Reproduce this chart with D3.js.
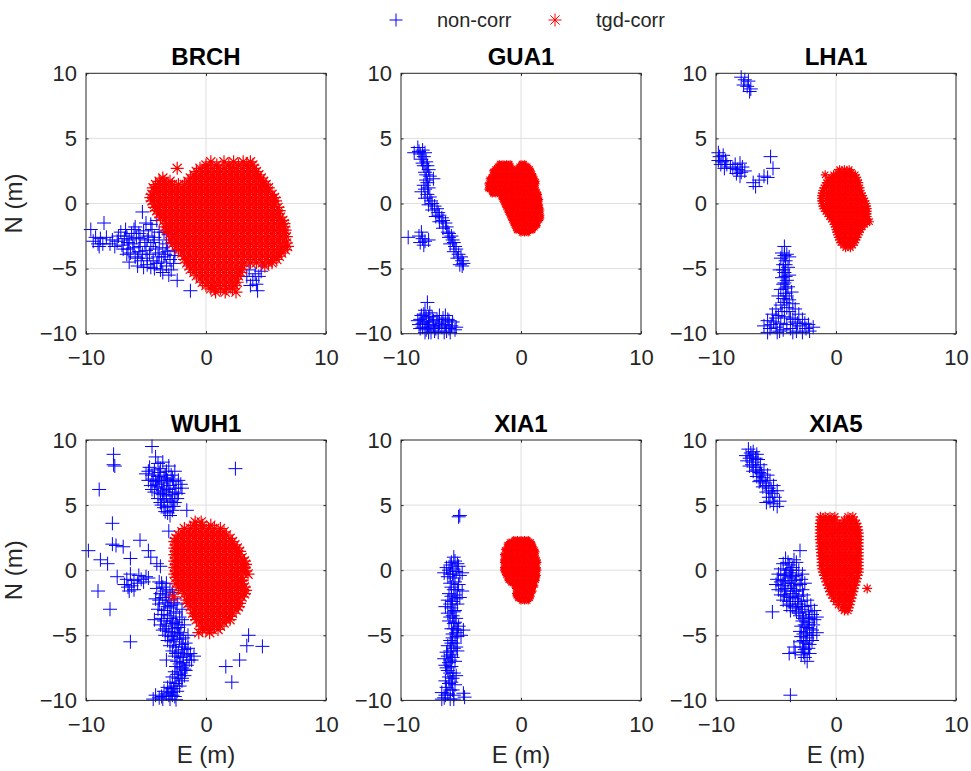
<!DOCTYPE html>
<html><head><meta charset="utf-8">
<script src="https://cdn.jsdelivr.net/npm/d3@7"></script>
<style>
body{margin:0;background:#fff;}
svg text{font-family:"Liberation Sans",Arial,Helvetica,sans-serif;fill:#262626;}
</style></head><body>
<svg id="fig" width="971" height="771"></svg>
<script>
// Station panels, in drawing order (row by row)
const stations = ["BRCH", "GUA1", "LHA1", "WUH1", "XIA1", "XIA5"];
const seriesNames = ["non-corr", "tgd-corr"];
const xTicks = [-10, 0, 10];
const yTicks = [-10, -5, 0, 5, 10];
const xLabel = "E (m)";
const yLabel = "N (m)";

// Uncorrected fixes, [E, N] in metres
const brchNonCorr = [
 [-9.6,-2.0],[-8.5,-1.5],[-9.4,-2.9],[-9.0,-3.1],[-8.8,-2.7],[-8.3,-2.6],[-8.0,-3.1],[-7.6,-3.3],[-8.9,-3.3],
 [-7.1,-2.2],[-6.8,-2.7],[-6.5,-3.0],[-6.9,-3.5],[-6.2,-2.3],[-6.0,-2.0],[-5.8,-2.6],[-5.5,-3.3],[-6.3,-3.8],[-5.9,-4.1],
 [-5.3,-0.65],[-4.1,-1.3],[-5.2,-2.1],[-4.8,-2.5],[-4.5,-2.0],[-4.4,-3.0],[-5.0,-3.6],[-4.7,-3.9],[-5.4,-4.4],[-4.9,-4.7],
 [-4.2,-3.5],[-3.9,-2.8],[-3.6,-3.4],[-4.0,-4.1],[-3.7,-4.5],[-4.3,-5.0],[-3.4,-3.9],[-3.3,-4.8],[-3.8,-5.1],[-3.0,-4.3],
 [-2.8,-3.0],[-2.9,-5.1],[-2.6,-4.0],[-2.4,-5.9],[-1.3,-6.7],[-3.1,-2.4],[-3.5,-2.2],[-5.7,-4.8],[-6.6,-2.5],[-7.4,-2.9],
 [-7.3,-2.5],[-6.0,-3.4],[-5.1,-3.0],[-4.6,-3.3],[-3.2,-3.7],[-4.4,-4.4],[-5.5,-2.7],[-6.4,-4.5],
 [-6.7,-2.0],[-6.4,-2.8],[-6.1,-3.1],[-5.6,-3.7],[-5.3,-3.9],[-4.9,-4.2],[-4.6,-4.9],[-4.1,-4.6],[-3.9,-3.8],
 [-3.5,-4.1],[-3.3,-3.1],[-4.3,-2.6],[-4.9,-2.8],[-5.6,-2.3],[-5.2,-4.9],[-3.6,-5.3],[-3.1,-5.5],[-2.7,-4.6],
 [-2.6,-3.6],[-6.6,-3.9],[-7.0,-3.2],[-7.8,-2.8],[-8.6,-3.1],[-9.2,-2.6],[-4.6,-1.6],[-3.9,-2.2],[-5.9,-1.8],
 [-5.0,-1.5],[-6.5,-3.5],[-5.7,-4.2],
 [3.6,-5.1],[4.1,-5.4],[3.4,-5.6],[3.9,-5.9],[4.4,-5.6],[4.2,-6.2],[3.7,-6.3],[4.3,-6.7],[4.6,-5.2]
];
const gua1NonCorr = [
 [-8.6,4.3],[-8.2,4.1],[-8.9,3.9],[-8.4,3.8],[-8.0,3.9],[-8.3,3.4],[-7.9,3.2],[-8.1,2.9],[-7.7,2.6],[-8.0,2.4],
 [-7.6,2.1],[-7.9,1.8],[-7.3,1.9],[-8.1,1.4],[-7.7,1.2],[-8.3,0.9],[-7.8,0.7],[-8.0,0.4],[-7.5,0.2],[-7.7,-0.1],
 [-7.2,-0.2],[-7.4,-0.5],[-6.9,-0.7],[-7.1,-1.0],[-6.6,-1.1],[-6.8,-1.4],[-6.3,-1.5],[-6.5,-1.9],[-6.1,-2.2],
 [-6.0,-2.6],[-5.7,-2.8],[-5.9,-3.1],[-5.5,-3.3],[-5.6,-3.7],[-5.2,-3.9],[-5.3,-4.2],[-4.9,-4.4],[-5.1,-4.7],[-4.8,-4.6],
 [-8.5,4.0],[-8.1,3.6],[-8.2,3.1],[-7.8,2.9],[-7.9,2.2],[-7.8,1.6],[-8.0,1.1],[-7.6,0.5],[-7.4,0.0],[-7.0,-0.4],
 [-6.8,-0.9],[-6.5,-1.3],[-6.2,-1.8],[-6.0,-2.3],[-5.8,-2.5],[-5.6,-3.0],[-5.4,-3.5],[-5.0,-4.1],[-4.9,-4.8],
 [-9.4,-2.6],[-8.5,-2.5],[-8.2,-2.7],[-8.0,-2.9],[-8.4,-3.0],[-8.1,-3.2],[-7.7,-2.8],[-8.3,-2.2],
 [-7.8,-7.6],[-8.0,-8.2],[-7.6,-8.4],[-8.3,-8.6],[-7.9,-8.8],[-7.4,-8.7],[-8.6,-9.0],[-8.2,-9.2],[-7.7,-9.1],
 [-7.3,-9.4],[-8.4,-9.6],[-7.9,-9.7],[-7.5,-9.9],[-7.1,-9.6],[-6.8,-9.2],[-6.5,-8.8],[-6.3,-8.6],[-6.0,-9.0],
 [-6.6,-9.5],[-6.2,-9.8],[-5.8,-9.4],[-5.5,-9.7],[-5.9,-9.9],[-7.0,-8.9],[-8.0,-9.9],[-6.9,-9.9],
 [-8.1,-8.5],[-7.7,-8.7],[-8.4,-8.9],[-8.0,-9.1],[-7.6,-9.3],[-8.2,-9.5],[-7.8,-9.5],[-7.3,-9.0],[-6.9,-9.4],
 [-6.6,-9.1],[-6.3,-9.3],[-6.0,-9.6],[-5.7,-9.1],[-5.4,-9.5],[-6.4,-9.9],[-7.2,-9.8],[-7.7,-9.9],[-8.5,-9.3],
 [-6.8,-8.6],[-6.1,-8.9]
];
const lha1NonCorr = [
 [-7.9,9.7],[-7.6,9.5],[-7.3,9.4],[-7.7,9.1],[-7.4,9.0],[-7.1,8.8],[-7.2,8.6],
 [-9.8,3.9],[-9.7,3.6],[-9.4,3.7],[-9.8,3.3],[-9.5,3.2],[-9.2,3.3],[-9.6,3.0],[-9.1,3.0],[-8.8,2.8],[-9.3,2.7],
 [-8.4,3.0],[-8.0,3.1],[-8.6,2.7],[-8.2,2.6],[-7.8,2.8],[-8.3,2.3],[-7.9,2.4],[-7.6,2.5],[-8.0,2.1],
 [-6.9,1.6],[-6.7,1.3],[-6.4,1.8],[-6.0,2.1],[-5.7,2.0],[-5.45,3.6],[-5.25,2.7],
 [-4.3,-3.3],[-4.5,-3.8],[-4.1,-3.9],[-4.6,-4.2],[-4.2,-4.4],[-3.9,-4.1],[-4.4,-4.7],[-4.0,-4.9],[-4.7,-5.1],
 [-4.3,-5.3],[-3.9,-5.5],[-4.5,-5.7],[-4.1,-5.9],[-4.4,-6.2],[-4.0,-6.4],[-4.6,-6.6],[-4.2,-6.9],[-3.7,-6.8],
 [-4.8,-7.1],[-4.4,-7.3],[-3.9,-7.4],[-3.6,-7.7],[-4.6,-7.8],[-4.1,-8.0],[-5.0,-8.1],[-3.4,-8.1],[-3.1,-8.5],
 [-5.3,-8.5],[-4.8,-8.6],[-4.3,-8.7],[-3.8,-8.8],[-2.8,-8.9],[-2.6,-9.2],[-5.7,-9.0],[-5.2,-9.1],[-4.6,-9.2],
 [-3.4,-9.1],[-3.0,-9.4],[-2.3,-9.3],[-1.9,-9.5],[-6.0,-9.4],[-5.5,-9.6],[-5.0,-9.5],[-4.4,-9.7],[-3.8,-9.6],
 [-3.3,-9.8],[-2.8,-9.9],[-2.2,-9.8],[-5.7,-9.9],[-4.9,-9.9],
 [-4.3,-4.0],[-4.2,-4.7],[-4.4,-5.1],[-4.2,-5.6],[-4.3,-6.1],[-4.2,-6.5],[-4.1,-7.1],[-4.3,-7.6],[-4.5,-8.3],
 [-3.9,-8.3],[-5.0,-8.8],[-3.6,-8.9],[-5.4,-9.3],[-4.1,-9.3],[-3.2,-9.2],[-2.5,-9.6],[-4.7,-9.8],[-3.6,-9.9]
];
const wuh1NonCorr = [
 [-4.5,9.5],[-4.2,8.7],[-4.0,8.2],[-3.6,8.3],[-4.7,7.9],[-4.3,7.7],[-3.8,7.8],[-3.3,7.6],[-5.0,7.4],[-4.5,7.3],
 [-4.0,7.2],[-3.5,7.1],[-2.9,7.3],[-4.8,6.9],[-4.2,6.8],[-3.7,6.7],[-3.2,6.9],[-2.7,6.8],[-4.6,6.5],[-4.0,6.4],
 [-3.5,6.3],[-3.0,6.5],[-2.5,6.3],[-2.1,6.6],[-4.3,6.0],[-3.8,5.9],[-3.3,6.0],[-2.8,5.8],[-2.3,5.9],[-4.0,5.5],
 [-3.5,5.4],[-3.0,5.5],[-2.6,5.2],[-3.7,5.0],[-3.2,4.9],[-2.8,4.6],[-3.4,4.5],[-3.0,4.2],[-1.6,4.6],[-3.1,3.0],
 [-3.6,5.8],[-3.9,6.9],[-3.3,7.0],[-2.6,7.6],
 [-4.4,7.0],[-3.9,7.5],[-3.4,7.3],[-2.8,7.0],[-4.1,6.6],[-3.6,6.1],[-3.1,6.2],[-2.6,6.0],[-4.5,6.2],[-3.8,5.2],
 [-3.3,5.7],[-2.9,5.3],[-3.5,4.8],[-2.4,5.5],[-4.8,7.6],[-3.1,8.0],[-2.3,6.9],[-2.0,6.3],[-3.2,4.4],[-2.7,4.9],
 [-7.7,8.9],[-7.7,8.1],[-7.6,8.0],[-8.9,6.2],[-7.8,3.6],[-5.5,2.3],[-7.8,2.0],[-7.5,1.9],[-6.9,1.8],[-9.8,1.5],
 [-4.8,1.5],[-4.6,1.0],[-6.3,0.9],[-8.8,0.8],[-8.2,0.5],[-4.1,0.5],[-3.8,0.3],[-7.4,-0.5],[-9.0,-1.6],[-8.0,-3.0],[-6.3,-5.5],
 [-6.3,-0.3],[-5.6,-0.4],[-5.0,-0.5],[-6.6,-0.7],[-6.0,-0.8],[-5.4,-0.7],[-6.8,-1.1],[-6.2,-1.2],[-5.7,-1.0],
 [-6.4,-1.6],[-6.0,-1.5],[-5.2,-0.9],[-6.5,-1.3],[-4.8,-0.6],
 [-3.9,-0.9],[-3.3,-1.0],[-4.1,-1.4],[-3.6,-1.3],[-3.0,-1.5],[-3.8,-1.8],[-3.3,-1.9],[-2.8,-1.7],[-4.2,-2.2],
 [-3.6,-2.1],[-3.1,-2.3],[-2.6,-2.2],[-3.9,-2.6],[-3.4,-2.5],[-2.9,-2.7],[-2.4,-2.6],[-4.0,-3.0],[-3.5,-3.1],
 [-3.0,-2.9],[-2.5,-3.2],[-2.0,-3.0],[-3.7,-3.4],[-3.2,-3.5],[-2.7,-3.3],[-2.2,-3.6],[-4.3,-3.8],[-3.5,-3.9],
 [-3.0,-3.7],[-2.5,-4.0],[-2.0,-3.8],[-3.8,-4.2],[-3.3,-4.3],[-2.8,-4.1],[-2.3,-4.4],[-1.8,-4.2],[-3.6,-4.6],
 [-3.1,-4.7],[-2.6,-4.5],[-2.1,-4.8],[-3.4,-5.0],[-2.9,-5.1],[-2.4,-4.9],[-1.9,-5.2],[-1.5,-5.0],[-3.2,-5.4],
 [-2.7,-5.5],[-2.2,-5.3],[-1.7,-5.6],[-3.0,-5.8],[-2.5,-5.9],[-2.0,-5.7],[-1.5,-6.0],[-2.8,-6.2],[-2.3,-6.3],
 [-1.8,-6.1],[-1.3,-6.4],[-2.6,-6.6],[-2.1,-6.7],[-1.6,-6.5],[-3.3,-6.9],[-2.4,-7.0],[-1.9,-7.1],[-1.4,-6.9],
 [-2.5,-7.4],[-2.0,-7.5],[-1.6,-7.3],[-2.6,-7.8],[-2.1,-7.9],[-1.7,-7.7],[-2.8,-8.2],[-2.3,-8.3],[-1.8,-8.1],
 [-3.0,-8.6],[-2.5,-8.7],[-2.0,-8.5],[-3.2,-9.0],[-2.7,-9.1],[-2.2,-8.9],[-3.5,-9.3],[-2.9,-9.4],[-2.4,-9.3],
 [-4.2,-9.6],[-3.7,-9.7],[-3.1,-9.6],[-2.6,-9.7],[-4.4,-9.9],[-3.6,-9.9],[-3.0,-9.9],[-2.5,-9.95],
 [-3.7,-1.0],[-3.4,-1.6],[-3.9,-2.3],[-2.7,-2.5],[-3.2,-2.8],[-3.7,-3.7],[-2.9,-3.9],[-2.4,-4.2],[-3.4,-4.5],
 [-2.8,-4.8],[-2.2,-5.0],[-2.6,-5.3],[-2.0,-5.9],[-2.5,-6.4],[-1.9,-6.6],[-2.2,-7.2],[-1.8,-7.6],[-2.4,-8.0],
 [-2.0,-8.3],[-2.6,-8.9],[-2.9,-9.1],[-3.3,-9.5],[-2.8,-9.6],[-3.9,-9.8],[-1.2,-6.9],[-1.0,-6.6],
 [2.45,7.8],[3.55,-5.0],[3.4,-5.8],[4.7,-5.85],[2.8,-6.9],[1.65,-7.4],[2.15,-8.6]
];
const xia1NonCorr = [
 [-5.2,4.1],[-5.1,4.2],[-5.6,1.0],[-5.8,0.6],[-5.3,0.5],[-6.2,0.2],[-5.7,0.1],[-5.2,0.3],[-6.4,-0.2],[-5.9,-0.3],
 [-5.4,-0.1],[-4.9,-0.2],[-6.1,-0.5],[-5.6,-0.6],[-5.5,-0.9],[-5.2,-1.1],[-5.8,-1.3],[-5.3,-1.5],[-4.9,-1.6],
 [-6.0,-1.8],[-5.5,-1.9],[-5.1,-2.1],[-6.1,-2.3],[-5.7,-2.4],[-5.3,-2.6],[-6.3,-2.8],[-5.8,-2.9],[-5.5,-3.1],
 [-6.1,-3.3],[-5.7,-3.5],[-5.4,-3.7],[-6.0,-3.9],[-5.6,-4.1],[-5.2,-4.3],[-5.8,-4.5],[-5.3,-4.6],[-4.8,-4.6],
 [-5.7,-4.9],[-5.3,-5.1],[-5.0,-5.0],[-5.9,-5.4],[-5.5,-5.6],[-6.1,-5.8],[-5.6,-6.0],[-5.3,-6.2],[-6.2,-6.3],
 [-5.8,-6.5],[-6.4,-6.8],[-5.9,-6.9],[-5.5,-7.0],[-6.3,-7.3],[-5.8,-7.4],[-6.1,-7.7],[-5.6,-7.9],[-5.4,-8.1],
 [-6.0,-8.2],[-6.3,-8.5],[-5.8,-8.6],[-5.5,-8.8],[-6.2,-9.0],[-5.7,-9.2],[-6.6,-9.4],[-6.1,-9.5],[-5.6,-9.6],
 [-6.4,-9.8],[-5.9,-9.9],[-4.8,-9.45],[-4.7,-9.75],
 [-5.9,0.4],[-5.5,0.7],[-6.0,0.0],[-5.1,-0.4],[-5.7,-0.3],[-5.9,-1.0],[-5.6,-1.5],[-5.8,-2.0],[-5.4,-2.2],
 [-5.9,-2.6],[-5.6,-3.2],[-5.9,-3.6],[-5.5,-4.0],[-5.6,-4.5],[-5.4,-4.8],[-5.7,-5.2],[-5.8,-5.6],[-5.4,-5.9],
 [-5.9,-6.2],[-6.1,-6.6],[-5.7,-6.7],[-6.0,-7.1],[-6.2,-7.5],[-5.9,-7.9],[-5.7,-8.3],[-6.0,-8.7],[-5.9,-9.2],
 [-6.3,-9.6],[-5.6,-9.9],[-6.6,-9.9]
];
const xia5NonCorr = [
 [-7.3,9.3],[-6.9,9.1],[-7.5,8.8],[-7.0,8.7],[-6.6,8.9],[-7.4,8.4],[-6.9,8.3],[-6.5,8.5],[-7.2,8.0],[-6.7,7.9],
 [-6.3,8.1],[-6.9,7.6],[-6.4,7.5],[-6.0,7.7],[-6.6,7.2],[-6.1,7.1],[-5.7,7.3],[-6.4,6.8],[-5.9,6.7],[-5.5,6.9],
 [-6.1,6.4],[-5.6,6.3],[-5.2,6.5],[-5.8,6.0],[-5.3,5.9],[-4.9,6.1],[-5.6,5.6],[-5.1,5.6],[-5.8,5.2],[-5.2,5.1],
 [-4.7,5.3],[-4.9,4.9],
 [-7.1,9.0],[-7.2,8.6],[-6.7,8.6],[-7.0,8.1],[-6.6,7.7],[-6.2,7.4],[-6.3,6.9],[-5.8,6.5],[-5.4,6.1],[-5.5,5.3],
 [-3.0,1.5],[-4.2,0.9],[-3.5,0.8],[-4.4,0.5],[-3.9,0.4],[-3.3,0.6],[-4.6,0.1],[-4.1,0.0],[-3.6,0.2],[-3.1,0.0],
 [-4.8,-0.3],[-4.3,-0.4],[-3.8,-0.2],[-3.3,-0.4],[-2.8,-0.3],[-4.9,-0.7],[-4.4,-0.8],[-3.9,-0.6],[-3.4,-0.8],
 [-2.9,-0.7],[-5.0,-1.1],[-4.5,-1.2],[-4.0,-1.0],[-3.5,-1.2],[-3.0,-1.1],[-2.6,-1.0],[-4.8,-1.5],[-4.3,-1.6],
 [-3.8,-1.4],[-3.3,-1.6],[-2.8,-1.5],[-4.6,-1.9],[-4.1,-2.0],[-3.6,-1.8],[-3.1,-2.0],[-2.7,-1.9],[-4.4,-2.3],
 [-3.9,-2.4],[-3.4,-2.2],[-2.9,-2.4],[-2.4,-2.3],[-4.1,-2.7],[-3.6,-2.8],[-3.1,-2.6],[-2.6,-2.8],[-2.1,-2.7],
 [-5.3,-3.2],[-3.8,-3.1],[-3.3,-3.2],[-2.8,-3.0],[-2.3,-3.2],[-1.8,-3.1],[-3.0,-3.5],[-2.5,-3.6],[-2.0,-3.4],
 [-1.6,-3.6],[-2.8,-3.9],[-2.3,-4.0],[-1.8,-3.8],[-2.9,-4.3],[-2.4,-4.4],[-1.9,-4.2],[-3.0,-4.7],[-2.5,-4.8],
 [-2.0,-4.6],[-1.6,-4.8],[-2.9,-5.1],[-2.4,-5.2],[-1.9,-5.0],[-3.0,-5.5],[-2.5,-5.6],[-2.0,-5.4],[-3.5,-5.9],
 [-2.8,-5.9],[-2.3,-6.0],[-3.9,-6.4],[-3.4,-6.3],[-2.7,-6.3],[-2.2,-6.4],[-2.6,-6.7],[-2.4,-7.0],[-3.8,-9.6],
 [-4.0,0.6],[-3.7,0.0],[-4.2,-0.3],[-3.6,-0.5],[-4.6,-0.9],[-3.7,-1.0],[-4.2,-1.4],[-3.5,-1.6],[-4.3,-1.9],
 [-3.8,-2.1],[-3.2,-2.4],[-3.8,-2.6],[-3.4,-2.9],[-2.9,-2.8],[-3.1,-3.3],[-2.7,-3.7],[-2.2,-3.7],[-2.6,-4.2],
 [-2.2,-4.5],[-2.7,-4.9],[-2.2,-5.0],[-2.7,-5.4],[-2.2,-5.7],[-2.6,-6.1],[-2.9,-6.5]
];

// TGD-corrected fixes. Each row: [N, E, E, ...] = fixes sharing one N value (metres)
const brchTgdCorr = [
 [3.2,0.4,1.5,2.3,3.1,3.7],
 [2.95,0.0,0.9,1.9,2.7,3.4,3.9],
 [2.7,-2.4,-0.5,0.0,0.5,1.0,1.5,2.0,2.5,3.0,3.5,4.0],
 [2.45,-0.8,-0.3,0.2,0.7,1.2,1.7,2.2,2.7,3.2,3.7,4.2],
 [2.2,-1.0,-0.5,0.0,0.5,1.0,1.5,2.0,2.5,3.0,3.5,4.0,4.4],
 [1.95,-3.6,-1.3,-0.8,-0.3,0.2,0.7,1.2,1.7,2.2,2.7,3.2,3.7,4.2,4.6],
 [1.7,-3.9,-3.5,-3.0,-1.5,-1.0,-0.5,0.0,0.5,1.0,1.5,2.0,2.5,3.0,3.5,4.0,4.5,4.8],
 [1.45,-4.2,-3.8,-3.3,-2.8,-2.3,-1.8,-1.3,-0.8,-0.3,0.2,0.7,1.2,1.7,2.2,2.7,3.2,3.7,4.2,4.7,5.0],
 [1.2,-4.4,-4.0,-3.5,-3.0,-2.5,-2.0,-1.5,-1.0,-0.5,0.0,0.5,1.0,1.5,2.0,2.5,3.0,3.5,4.0,4.5,5.0,5.2],
 [0.95,-4.3,-3.8,-3.3,-2.8,-2.3,-1.8,-1.3,-0.8,-0.3,0.2,0.7,1.2,1.7,2.2,2.7,3.2,3.7,4.2,4.7,5.2],
 [0.7,-4.5,-4.0,-3.5,-3.0,-2.5,-2.0,-1.5,-1.0,-0.5,0.0,0.5,1.0,1.5,2.0,2.5,3.0,3.5,4.0,4.5,5.0,5.5],
 [0.45,-4.6,-4.3,-3.8,-3.3,-2.8,-2.3,-1.8,-1.3,-0.8,-0.3,0.2,0.7,1.2,1.7,2.2,2.7,3.2,3.7,4.2,4.7,5.2,5.7],
 [0.2,-4.5,-4.0,-3.5,-3.0,-2.5,-2.0,-1.5,-1.0,-0.5,0.0,0.5,1.0,1.5,2.0,2.5,3.0,3.5,4.0,4.5,5.0,5.5,5.8],
 [-0.05,-4.3,-3.8,-3.3,-2.8,-2.3,-1.8,-1.3,-0.8,-0.3,0.2,0.7,1.2,1.7,2.2,2.7,3.2,3.7,4.2,4.7,5.2,5.7],
 [-0.3,-4.3,-4.0,-3.5,-3.0,-2.5,-2.0,-1.5,-1.0,-0.5,0.0,0.5,1.0,1.5,2.0,2.5,3.0,3.5,4.0,4.5,5.0,5.5,6.0],
 [-0.55,-4.1,-3.8,-3.3,-2.8,-2.3,-1.8,-1.3,-0.8,-0.3,0.2,0.7,1.2,1.7,2.2,2.7,3.2,3.7,4.2,4.7,5.2,5.7,6.1],
 [-0.8,-3.9,-3.5,-3.0,-2.5,-2.0,-1.5,-1.0,-0.5,0.0,0.5,1.0,1.5,2.0,2.5,3.0,3.5,4.0,4.5,5.0,5.5,6.0],
 [-1.05,-3.8,-3.3,-2.8,-2.3,-1.8,-1.3,-0.8,-0.3,0.2,0.7,1.2,1.7,2.2,2.7,3.2,3.7,4.2,4.7,5.2,5.7,6.2],
 [-1.3,-3.5,-3.0,-2.5,-2.0,-1.5,-1.0,-0.5,0.0,0.5,1.0,1.5,2.0,2.5,3.0,3.5,4.0,4.5,5.0,5.5,6.0,6.4],
 [-1.55,-3.3,-2.8,-2.3,-1.8,-1.3,-0.8,-0.3,0.2,0.7,1.2,1.7,2.2,2.7,3.2,3.7,4.2,4.7,5.2,5.7,6.2,6.5],
 [-1.8,-3.4,-3.0,-2.5,-2.0,-1.5,-1.0,-0.5,0.0,0.5,1.0,1.5,2.0,2.5,3.0,3.5,4.0,4.5,5.0,5.5,6.0,6.5],
 [-2.05,-3.3,-2.8,-2.3,-1.8,-1.3,-0.8,-0.3,0.2,0.7,1.2,1.7,2.2,2.7,3.2,3.7,4.2,4.7,5.2,5.7,6.2,6.6],
 [-2.3,-3.0,-2.5,-2.0,-1.5,-1.0,-0.5,0.0,0.5,1.0,1.5,2.0,2.5,3.0,3.5,4.0,4.5,5.0,5.5,6.0,6.5],
 [-2.55,-2.8,-2.3,-1.8,-1.3,-0.8,-0.3,0.2,0.7,1.2,1.7,2.2,2.7,3.2,3.7,4.2,4.7,5.2,5.7,6.2,6.7],
 [-2.8,-2.9,-2.5,-2.0,-1.5,-1.0,-0.5,0.0,0.5,1.0,1.5,2.0,2.5,3.0,3.5,4.0,4.5,5.0,5.5,6.0,6.5],
 [-3.05,-2.8,-2.3,-1.8,-1.3,-0.8,-0.3,0.2,0.7,1.2,1.7,2.2,2.7,3.2,3.7,4.2,4.7,5.2,5.7,6.2,6.7],
 [-3.3,-2.5,-2.0,-1.5,-1.0,-0.5,0.0,0.5,1.0,1.5,2.0,2.5,3.0,3.5,4.0,4.5,5.0,5.5,6.0,6.5,6.8],
 [-3.55,-2.3,-1.8,-1.3,-0.8,-0.3,0.2,0.7,1.2,1.7,2.2,2.7,3.2,3.7,4.2,4.7,5.2,5.7,6.2,6.6],
 [-3.8,-2.0,-1.5,-1.0,-0.5,0.0,0.5,1.0,1.5,2.0,2.5,3.0,3.5,4.0,4.5,5.0,5.5,6.0,6.3],
 [-4.05,-1.8,-1.3,-0.8,-0.3,0.2,0.7,1.2,1.7,2.2,2.7,3.2,3.7,4.2,4.7,5.2,5.7,6.1],
 [-4.3,-1.8,-1.5,-1.0,-0.5,0.0,0.5,1.0,1.5,2.0,2.5,3.0,3.5,4.0,4.5,5.0,5.5,5.9],
 [-4.55,-1.6,-1.3,-0.8,-0.3,0.2,0.7,1.2,1.7,2.2,2.7,3.2,3.7,4.2,4.7,5.2,5.5],
 [-4.8,-1.4,-1.0,-0.5,0.0,0.5,1.0,1.5,2.0,2.5,3.0,4.9],
 [-5.05,-1.3,-0.8,-0.3,0.2,0.7,1.2,1.7,2.2,2.7,3.0],
 [-5.3,-1.0,-0.5,0.0,0.5,1.0,1.5,2.0,2.5,2.9],
 [-5.55,-0.8,-0.3,0.2,0.7,1.2,1.7,2.2,2.7],
 [-5.8,-0.5,0.0,0.5,1.0,1.5,2.0,2.5],
 [-6.05,-0.3,0.2,0.7,1.2,1.7,2.2,2.6],
 [-6.3,0.0,0.5,1.0,1.5,2.0,2.4],
 [-6.55,0.4,0.7,1.2,1.7,2.2],
 [-6.8,0.8,1.6,2.5]
];
const gua1TgdCorr = [
 [3.1,-1.8,-1.5,-1.2,-0.9,0.0,0.3],
 [2.9,-2.0,-1.7,-1.4,-1.1,-0.8,-0.2,0.1,0.4,0.6],
 [2.7,-2.2,-1.9,-1.6,-1.3,-1.0,-0.7,-0.4,-0.1,0.2,0.5,0.8],
 [2.5,-2.4,-2.1,-1.8,-1.5,-1.2,-0.9,-0.6,-0.3,0.0,0.3,0.6,0.9],
 [2.3,-2.3,-2.0,-1.7,-1.4,-1.1,-0.8,-0.5,-0.2,0.1,0.4,0.7,1.0],
 [2.1,-2.5,-2.2,-1.9,-1.6,-1.3,-1.0,-0.7,-0.4,-0.1,0.2,0.5,0.8,1.1],
 [1.9,-2.7,-2.4,-2.1,-1.8,-1.5,-1.2,-0.9,-0.6,-0.3,0.0,0.3,0.6,0.9,1.2],
 [1.7,-2.6,-2.3,-2.0,-1.7,-1.4,-1.1,-0.8,-0.5,-0.2,0.1,0.4,0.7,1.0,1.3],
 [1.5,-2.8,-2.5,-2.2,-1.9,-1.6,-1.3,-1.0,-0.7,-0.4,-0.1,0.2,0.5,0.8,1.1,1.3],
 [1.3,-2.7,-2.4,-2.1,-1.8,-1.5,-1.2,-0.9,-0.6,-0.3,0.0,0.3,0.6,0.9,1.2],
 [1.1,-2.8,-2.6,-2.3,-2.0,-1.7,-1.4,-1.1,-0.8,-0.5,-0.2,0.1,0.4,0.7,1.0,1.3],
 [0.9,-2.5,-2.2,-1.9,-1.6,-1.3,-1.0,-0.7,-0.4,-0.1,0.2,0.5,0.8,1.1,1.4],
 [0.7,-2.4,-2.1,-1.8,-1.5,-1.2,-0.9,-0.6,-0.3,0.0,0.3,0.6,0.9,1.2,1.5],
 [0.5,-1.7,-1.4,-1.1,-0.8,-0.5,-0.2,0.1,0.4,0.7,1.0,1.3,1.5],
 [0.3,-1.6,-1.3,-1.0,-0.7,-0.4,-0.1,0.2,0.5,0.8,1.1,1.4,1.6],
 [0.1,-1.5,-1.2,-0.9,-0.6,-0.3,0.0,0.3,0.6,0.9,1.2,1.5],
 [-0.1,-1.4,-1.1,-0.8,-0.5,-0.2,0.1,0.4,0.7,1.0,1.3,1.6],
 [-0.3,-1.3,-1.0,-0.7,-0.4,-0.1,0.2,0.5,0.8,1.1,1.4,1.6],
 [-0.5,-1.2,-0.9,-0.6,-0.3,0.0,0.3,0.6,0.9,1.2,1.5,1.7],
 [-0.7,-1.1,-0.8,-0.5,-0.2,0.1,0.4,0.7,1.0,1.3,1.6],
 [-0.9,-1.0,-0.7,-0.4,-0.1,0.2,0.5,0.8,1.1,1.4,1.7],
 [-1.1,-0.9,-0.6,-0.3,0.0,0.3,0.6,0.9,1.2,1.5,1.7],
 [-1.3,-0.8,-0.5,-0.2,0.1,0.4,0.7,1.0,1.3,1.6],
 [-1.5,-0.7,-0.4,-0.1,0.2,0.5,0.8,1.1,1.4],
 [-1.7,-0.6,-0.3,0.0,0.3,0.6,0.9,1.2,1.4],
 [-1.9,-0.5,-0.2,0.1,0.4,0.7,1.0,1.2],
 [-2.1,-0.4,-0.1,0.2,0.5,0.8,1.0],
 [-2.3,0.0,0.3,0.6]
];
const lha1TgdCorr = [
 [2.6,0.3,0.7,1.1],
 [2.4,0.1,0.5,0.9,1.3],
 [2.2,-0.9,-0.2,0.2,0.6,1.0,1.4,1.6],
 [2.0,-0.4,0.0,0.4,0.8,1.2,1.7],
 [1.8,-0.6,-0.2,0.2,0.6,1.0,1.4,1.8],
 [1.6,-0.8,-0.4,0.0,0.4,0.8,1.2,1.6,1.9],
 [1.4,-0.9,-0.6,-0.2,0.2,0.6,1.0,1.4,1.8],
 [1.2,-1.0,-0.4,0.0,0.4,0.8,1.2,1.6,2.0],
 [1.0,-1.1,-0.6,-0.2,0.2,0.6,1.0,1.4,1.8,2.0],
 [0.8,-1.15,-0.8,-0.4,0.0,0.4,0.8,1.2,1.6,2.1],
 [0.6,-1.2,-0.6,-0.2,0.2,0.6,1.0,1.4,1.8,2.2],
 [0.4,-1.2,-0.8,-0.4,0.0,0.4,0.8,1.2,1.6,2.0,2.3],
 [0.2,-1.2,-0.6,-0.2,0.2,0.6,1.0,1.4,1.8,2.2,2.4],
 [0.0,-1.15,-0.8,-0.4,0.0,0.4,0.8,1.2,1.6,2.0,2.5],
 [-0.2,-1.1,-0.6,-0.2,0.2,0.6,1.0,1.4,1.8,2.2,2.55],
 [-0.4,-1.0,-0.7,-0.4,0.0,0.4,0.8,1.2,1.6,2.0,2.4,2.6],
 [-0.6,-0.85,-0.6,-0.2,0.2,0.6,1.0,1.4,1.8,2.2,2.6],
 [-0.8,-0.7,-0.4,0.0,0.4,0.8,1.2,1.6,2.0,2.4,2.6],
 [-1.0,-0.55,-0.2,0.2,0.6,1.0,1.4,1.8,2.2,2.6],
 [-1.2,-0.4,0.0,0.4,0.8,1.2,1.6,2.0,2.4,2.6],
 [-1.4,-0.25,0.2,0.6,1.0,1.4,1.8,2.2,2.6,2.8],
 [-1.6,-0.15,0.2,0.6,1.0,1.4,1.8,2.2,2.4],
 [-1.8,-0.05,0.4,0.8,1.2,1.6,2.0,2.2],
 [-2.0,0.0,0.3,0.7,1.1,1.5,1.9,2.05],
 [-2.2,0.05,0.5,0.9,1.3,1.7,1.95],
 [-2.4,0.15,0.4,0.8,1.2,1.6,1.85],
 [-2.6,0.2,0.6,1.0,1.4,1.75],
 [-2.8,0.3,0.7,1.1,1.5,1.65],
 [-3.0,0.4,0.8,1.2,1.55],
 [-3.2,0.6,1.0,1.4],
 [-3.4,0.8,1.2]
];
const wuh1TgdCorr = [
 [3.7,-0.9,-0.4],
 [3.45,-1.0,-0.3,0.4],
 [3.2,-1.8,-1.3,-0.8,-0.3,0.2,0.7,1.2],
 [2.95,-2.0,-1.5,-1.0,-0.5,0.0,0.5,1.0,1.5],
 [2.7,-2.3,-1.8,-1.3,-0.8,-0.3,0.2,0.7,1.2,1.7],
 [2.45,-2.5,-2.0,-1.5,-1.0,-0.5,0.0,0.5,1.0,1.5,2.0],
 [2.2,-2.6,-2.3,-1.8,-1.3,-0.8,-0.3,0.2,0.7,1.2,1.7,2.2],
 [1.95,-2.5,-2.0,-1.5,-1.0,-0.5,0.0,0.5,1.0,1.5,2.0,2.4],
 [1.7,-2.6,-2.3,-1.8,-1.3,-0.8,-0.3,0.2,0.7,1.2,1.7,2.2,2.6],
 [1.45,-2.5,-2.0,-1.5,-1.0,-0.5,0.0,0.5,1.0,1.5,2.0,2.5,2.8],
 [1.2,-2.6,-2.3,-1.8,-1.3,-0.8,-0.3,0.2,0.7,1.2,1.7,2.2,2.7],
 [0.95,-2.5,-2.0,-1.5,-1.0,-0.5,0.0,0.5,1.0,1.5,2.0,2.5,3.0],
 [0.7,-2.6,-2.3,-1.8,-1.3,-0.8,-0.3,0.2,0.7,1.2,1.7,2.2,2.7,3.2],
 [0.45,-2.5,-2.0,-1.5,-1.0,-0.5,0.0,0.5,1.0,1.5,2.0,2.5,3.0,3.3],
 [0.2,-2.6,-2.3,-1.8,-1.3,-0.8,-0.3,0.2,0.7,1.2,1.7,2.2,2.7,3.2],
 [-0.05,-2.5,-2.0,-1.5,-1.0,-0.5,0.0,0.5,1.0,1.5,2.0,2.5,3.0,3.3],
 [-0.3,-2.6,-2.3,-1.8,-1.3,-0.8,-0.3,0.2,0.7,1.2,1.7,2.2,2.7,3.5],
 [-0.55,-2.5,-2.0,-1.5,-1.0,-0.5,0.0,0.5,1.0,1.5,2.0,2.5,3.0],
 [-0.8,-2.3,-1.8,-1.3,-0.8,-0.3,0.2,0.7,1.2,1.7,2.2,2.7,3.0],
 [-1.05,-2.5,-2.0,-1.5,-1.0,-0.5,0.0,0.5,1.0,1.5,2.0,2.5,3.0],
 [-1.3,-2.3,-1.8,-1.3,-0.8,-0.3,0.2,0.7,1.2,1.7,2.2,2.7,3.2],
 [-1.55,-2.0,-1.5,-1.0,-0.5,0.0,0.5,1.0,1.5,2.0,2.5,3.0,3.3],
 [-1.8,-1.8,-1.3,-0.8,-0.3,0.2,0.7,1.2,1.7,2.2,2.7,3.2],
 [-2.05,-2.7,-1.5,-1.0,-0.5,0.0,0.5,1.0,1.5,2.0,2.5,3.0],
 [-2.3,-1.6,-1.3,-0.8,-0.3,0.2,0.7,1.2,1.7,2.2,2.7],
 [-2.55,-1.5,-1.0,-0.5,0.0,0.5,1.0,1.5,2.0,2.5,2.8],
 [-2.8,-1.3,-0.8,-0.3,0.2,0.7,1.2,1.7,2.2,2.7],
 [-3.05,-1.0,-0.5,0.0,0.5,1.0,1.5,2.0,2.5],
 [-3.3,-1.1,-0.8,-0.3,0.2,0.7,1.2,1.7,2.2],
 [-3.55,-0.9,-0.5,0.0,0.5,1.0,1.5,2.0],
 [-3.8,-0.8,-0.3,0.2,0.7,1.2,1.7,2.0],
 [-4.05,-0.5,0.0,0.5,1.0,1.5],
 [-4.3,-0.3,0.2,0.7,1.2],
 [-4.55,-0.3,0.0,0.5,1.0],
 [-4.8,-0.6,0.3]
];
const xia1TgdCorr = [
 [2.4,-0.6,-0.3,0.0,0.3,0.6],
 [2.2,-1.0,-0.8,-0.5,-0.2,0.1,0.4,0.7,0.9],
 [2.0,-1.2,-1.0,-0.7,-0.4,-0.1,0.2,0.5,0.8,1.0],
 [1.8,-1.2,-0.9,-0.6,-0.3,0.0,0.3,0.6,0.9,1.1],
 [1.6,-1.4,-1.1,-0.8,-0.5,-0.2,0.1,0.4,0.7,1.0,1.2],
 [1.4,-1.3,-1.0,-0.7,-0.4,-0.1,0.2,0.5,0.8,1.1,1.3],
 [1.2,-1.5,-1.2,-0.9,-0.6,-0.3,0.0,0.3,0.6,0.9,1.2],
 [1.0,-1.4,-1.1,-0.8,-0.5,-0.2,0.1,0.4,0.7,1.0,1.3],
 [0.8,-1.5,-1.3,-1.0,-0.7,-0.4,-0.1,0.2,0.5,0.8,1.1,1.4],
 [0.6,-1.5,-1.2,-0.9,-0.6,-0.3,0.0,0.3,0.6,0.9,1.2,1.45],
 [0.4,-1.4,-1.1,-0.8,-0.5,-0.2,0.1,0.4,0.7,1.0,1.3],
 [0.2,-1.5,-1.3,-1.0,-0.7,-0.4,-0.1,0.2,0.5,0.8,1.1,1.4],
 [0.0,-1.5,-1.2,-0.9,-0.6,-0.3,0.0,0.3,0.6,0.9,1.2,1.45],
 [-0.2,-1.4,-1.1,-0.8,-0.5,-0.2,0.1,0.4,0.7,1.0,1.3],
 [-0.4,-1.3,-1.0,-0.7,-0.4,-0.1,0.2,0.5,0.8,1.1,1.4],
 [-0.6,-1.2,-0.9,-0.6,-0.3,0.0,0.3,0.6,0.9,1.2,1.35],
 [-0.8,-1.1,-0.8,-0.5,-0.2,0.1,0.4,0.7,1.0,1.3],
 [-1.0,-0.9,-0.7,-0.4,-0.1,0.2,0.5,0.8,1.1],
 [-1.2,-0.6,-0.3,0.0,0.3,0.6,0.9,1.2],
 [-1.4,-0.5,-0.2,0.1,0.4,0.7,1.0],
 [-1.6,-0.4,-0.1,0.2,0.5,0.8,1.05],
 [-1.8,-0.5,-0.3,0.0,0.3,0.6,0.9],
 [-2.0,-0.45,-0.2,0.1,0.4,0.7,0.9],
 [-2.2,-0.3,-0.1,0.2,0.5,0.8],
 [-2.4,0.0,0.3,0.6]
];
const xia5TgdCorr = [
 [4.1,-1.3,-0.9,-0.5,-0.1,1.0,1.4],
 [3.85,-1.3,-0.9,-0.5,-0.1,0.7,1.1,1.5],
 [3.6,-1.35,-1.1,-0.7,-0.3,0.1,0.5,0.9,1.3,1.7],
 [3.35,-1.35,-0.9,-0.5,-0.1,0.3,0.7,1.1,1.5,1.8],
 [3.1,-1.35,-1.1,-0.7,-0.3,0.1,0.5,0.9,1.3,1.7,1.85],
 [2.85,-1.35,-0.9,-0.5,-0.1,0.3,0.7,1.1,1.5,1.9],
 [2.6,-1.35,-1.1,-0.7,-0.3,0.1,0.5,0.9,1.3,1.7,1.9],
 [2.35,-1.35,-0.9,-0.5,-0.1,0.3,0.7,1.1,1.5,1.9],
 [2.1,-1.3,-1.1,-0.7,-0.3,0.1,0.5,0.9,1.3,1.7,1.9],
 [1.85,-1.3,-0.9,-0.5,-0.1,0.3,0.7,1.1,1.5,1.9],
 [1.6,-1.3,-1.1,-0.7,-0.3,0.1,0.5,0.9,1.3,1.7,1.9],
 [1.35,-1.25,-0.9,-0.5,-0.1,0.3,0.7,1.1,1.5,1.9],
 [1.1,-1.25,-1.1,-0.7,-0.3,0.1,0.5,0.9,1.3,1.7,1.9],
 [0.85,-1.2,-0.9,-0.5,-0.1,0.3,0.7,1.1,1.5,1.9],
 [0.6,-1.2,-0.7,-0.3,0.1,0.5,0.9,1.3,1.7,1.9],
 [0.35,-1.2,-0.9,-0.5,-0.1,0.3,0.7,1.1,1.5,1.9],
 [0.1,-1.15,-0.7,-0.3,0.1,0.5,0.9,1.3,1.7,1.9],
 [-0.15,-1.1,-0.8,-0.5,-0.1,0.3,0.7,1.1,1.5,1.9],
 [-0.4,-1.0,-0.7,-0.3,0.1,0.5,0.9,1.3,1.8],
 [-0.65,-0.9,-0.5,-0.1,0.3,0.7,1.1,1.5,1.75],
 [-0.9,-0.8,-0.3,0.1,0.5,0.9,1.3,1.65],
 [-1.15,-0.7,-0.5,-0.1,0.3,0.7,1.1,1.6],
 [-1.4,-0.6,-0.3,0.1,0.5,0.9,1.3,1.5,2.6],
 [-1.65,-0.5,-0.1,0.3,0.7,1.1,1.45],
 [-1.9,-0.35,0.1,0.5,0.9,1.35],
 [-2.15,-0.2,0.3,0.7,1.1,1.3],
 [-2.4,0.0,0.5,0.9,1.2],
 [-2.65,0.2,0.7,1.15],
 [-2.9,0.5,0.8,1.05],
 [-3.1,0.7,1.0]
];

const nonCorrByStation = [brchNonCorr, gua1NonCorr, lha1NonCorr, wuh1NonCorr, xia1NonCorr, xia5NonCorr];
const tgdCorrByStation = [brchTgdCorr, gua1TgdCorr, lha1TgdCorr, wuh1TgdCorr, xia1TgdCorr, xia5TgdCorr];
// asterisk span (px) per panel
const tgdMarkerSpan = [13, 6, 9, 13, 6, 10];
const plusSpan = 14;

const blue = "#0000ff", red = "#ff0000", axisColor = "#262626", gridColor = "#dfdfdf";

// unpack [N, E, E, ...] rows into [E, N] fixes
const rowsToFixes = rows => rows.flatMap(r => r.slice(1).map(e => [e, r[0]]));

// stroke-only marker shapes for d3.symbol (size = span squared)
const plusType = {draw(ctx, size) {
  const r = Math.sqrt(size) / 2;
  ctx.moveTo(-r, 0); ctx.lineTo(r, 0); ctx.moveTo(0, -r); ctx.lineTo(0, r);
}};
const asteriskType = {draw(ctx, size) {
  const r = Math.sqrt(size) / 2, d = r * 0.7071;
  ctx.moveTo(-r, 0); ctx.lineTo(r, 0); ctx.moveTo(0, -r); ctx.lineTo(0, r);
  ctx.moveTo(-d, -d); ctx.lineTo(d, d); ctx.moveTo(-d, d); ctx.lineTo(d, -d);
}};

const svg = d3.select("#fig");
const colLeft = [86, 401, 716], rowTop = [73.3, 440];
const W = 240, H = 260.4;
const fontTick = "22px", fontLabel = "24px";

stations.forEach((name, i) => {
  const left = colLeft[i % 3], top = rowTop[Math.floor(i / 3)];
  const x = d3.scaleLinear().domain([-10, 10]).range([0, W]);
  const y = d3.scaleLinear().domain([-10, 10]).range([H, 0]);
  const g = svg.append("g").attr("transform", `translate(${left},${top})`);

  // grid
  g.append("g").selectAll("line").data(yTicks.filter(t => t > -10 && t < 10)).join("line")
    .attr("x1", 0).attr("x2", W).attr("y1", d => y(d)).attr("y2", d => y(d))
    .attr("stroke", gridColor).attr("stroke-width", 1);
  g.append("g").selectAll("line").data(xTicks.filter(t => t > -10 && t < 10)).join("line")
    .attr("y1", 0).attr("y2", H).attr("x1", d => x(d)).attr("x2", d => x(d))
    .attr("stroke", gridColor).attr("stroke-width", 1);

  // fixes: uncorrected first, corrected on top
  const plus = d3.symbol().type(plusType).size(plusSpan * plusSpan);
  g.append("g").selectAll("path").data(nonCorrByStation[i]).join("path")
    .attr("d", plus).attr("transform", d => `translate(${x(d[0])},${y(d[1])})`)
    .attr("fill", "none").attr("stroke", blue).attr("stroke-width", 1);
  const star = d3.symbol().type(asteriskType).size(tgdMarkerSpan[i] * tgdMarkerSpan[i]);
  g.append("g").selectAll("path").data(rowsToFixes(tgdCorrByStation[i])).join("path")
    .attr("d", star).attr("transform", d => `translate(${x(d[0])},${y(d[1])})`)
    .attr("fill", "none").attr("stroke", red).attr("stroke-width", 1.2);

  // axes with inward ticks on all four sides
  const tk = 2.6;
  const styleAxis = sel => {
    sel.select(".domain").remove();
    sel.selectAll(".tick line").attr("stroke", axisColor);
    sel.selectAll(".tick text").attr("fill", axisColor).style("font-size", fontTick)
      .style("font-family", '"Liberation Sans", Arial, sans-serif');
  };
  g.append("g").attr("transform", `translate(0,${H})`)
    .call(d3.axisBottom(x).tickValues(xTicks).tickSizeInner(-tk).tickSizeOuter(0).tickPadding(16))
    .call(styleAxis);
  g.append("g")
    .call(d3.axisTop(x).tickValues(xTicks).tickSizeInner(-tk).tickSizeOuter(0).tickFormat(""))
    .call(styleAxis);
  g.append("g")
    .call(d3.axisLeft(y).tickValues(yTicks).tickSizeInner(-tk).tickSizeOuter(0).tickPadding(9))
    .call(styleAxis);
  g.append("g").attr("transform", `translate(${W},0)`)
    .call(d3.axisRight(y).tickValues(yTicks).tickSizeInner(-tk).tickSizeOuter(0).tickFormat(""))
    .call(styleAxis);

  g.append("rect").attr("x", 0).attr("y", 0).attr("width", W).attr("height", H)
    .attr("fill", "none").attr("stroke", axisColor).attr("stroke-width", 1);

  g.append("text").attr("x", W / 2).attr("y", -8).attr("text-anchor", "middle")
    .style("font-size", fontLabel).style("font-weight", "bold").style("fill", "#000").text(name);

  if (i % 3 === 0) {
    g.append("text").attr("transform", `translate(-64,${H / 2}) rotate(-90)`)
      .attr("text-anchor", "middle").style("font-size", fontLabel).text(yLabel);
  }
  if (i >= 3) {
    g.append("text").attr("x", W / 2).attr("y", H + 63).attr("text-anchor", "middle")
      .style("font-size", fontLabel).text(xLabel);
  }
});

// legend
const legend = svg.append("g").attr("transform", "translate(0,20)");
const legendItems = [
  {label: seriesNames[0], x: 396, type: plusType, color: blue, span: 13},
  {label: seriesNames[1], x: 555, type: asteriskType, color: red, span: 13}
];
legendItems.forEach(it => {
  legend.append("path").attr("d", d3.symbol().type(it.type).size(it.span * it.span)())
    .attr("transform", `translate(${it.x},0)`).attr("fill", "none")
    .attr("stroke", it.color).attr("stroke-width", 1);
  legend.append("text").attr("x", it.x + 41).attr("y", 7).style("font-size", "20px").text(it.label);
});
</script>
</body></html>
